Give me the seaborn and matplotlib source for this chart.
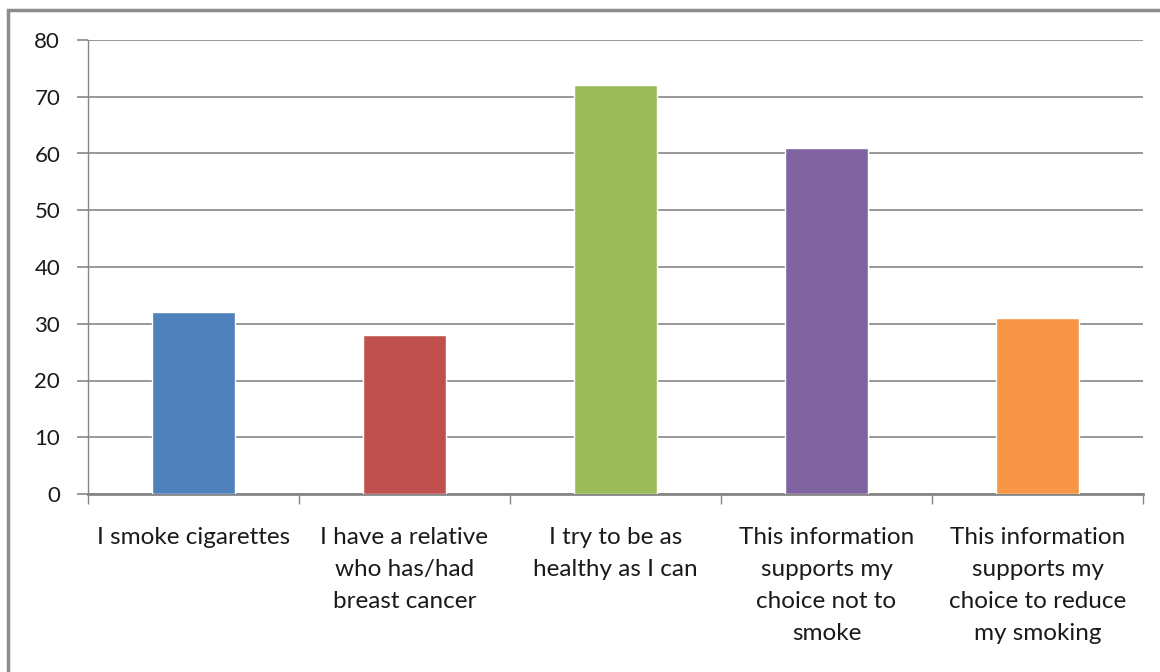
import matplotlib
matplotlib.use("Agg")
import matplotlib.pyplot as plt
from matplotlib.patches import Rectangle
import seaborn as sns
import pandas as pd

categories = [
    "I smoke cigarettes",
    "I have a relative\nwho has/had\nbreast cancer",
    "I try to be as\nhealthy as I can",
    "This information\nsupports my\nchoice not to\nsmoke",
    "This information\nsupports my\nchoice to reduce\nmy smoking",
]
counts = [32, 28, 72, 61, 31]
bar_colors = ["#4F81BD", "#C0504D", "#9BBB59", "#8064A2", "#F79646"]

df = pd.DataFrame({"category": categories, "count": counts})

sns.set_style("white")
plt.rcParams["font.family"] = ["Lato", "DejaVu Sans"]

fig = plt.figure(figsize=(11.6, 6.72), dpi=100)
ax = fig.add_axes([88 / 1160, 1 - 494 / 672, (1143 - 88) / 1160, (494 - 40) / 672])

sns.barplot(data=df, x="category", y="count", hue="category", palette=bar_colors,
            width=0.395, legend=False, saturation=1, ax=ax, zorder=3)

grid_c = "#868686"
ax.set_ylim(0, 80)
ax.set_xlim(-0.5, 4.5)
ax.set_yticks(range(0, 81, 10))
ax.yaxis.grid(True, color=grid_c, linewidth=1.2, zorder=0)
ax.set_axisbelow(True)
ax.set_xlabel("")
ax.set_ylabel("")

for side in ["top", "right"]:
    ax.spines[side].set_visible(False)
ax.spines["left"].set_color(grid_c)
ax.spines["left"].set_linewidth(1.0)
ax.spines["bottom"].set_color(grid_c)
ax.spines["bottom"].set_linewidth(2.0)

ax.tick_params(axis="y", length=8, width=1.2, color=grid_c, labelsize=16, pad=12, left=True)
ax.tick_params(axis="x", which="major", length=0, labelsize=17.5, pad=24)
ax.set_xticks([i - 0.5 for i in range(6)], minor=True)
ax.tick_params(axis="x", which="minor", length=7, width=1, color=grid_c, bottom=True)
for lbl in ax.get_xticklabels():
    lbl.set_linespacing(1.65)
    lbl.set_verticalalignment("top")
    lbl.set_color("#1a1a1a")
for lbl in ax.get_yticklabels():
    lbl.set_color("#1a1a1a")

fig.add_artist(Rectangle((8 / 1160, -0.05), 1.1, 1 - 10 / 672 + 0.05,
                         transform=fig.transFigure, fill=False,
                         edgecolor="#8c8c8c", linewidth=2.5))

fig.savefig("out.png", dpi=100)
